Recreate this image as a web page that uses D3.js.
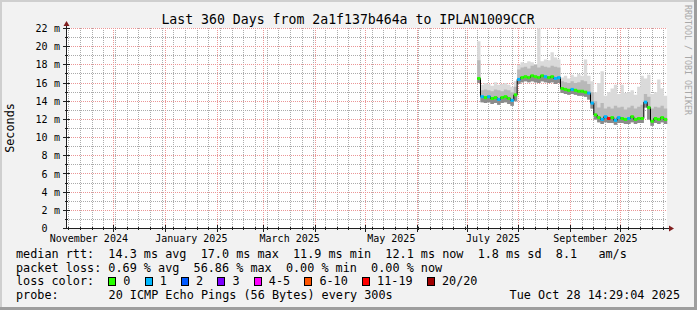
<!DOCTYPE html>
<html>
<head>
<meta charset="utf-8">
<script src="https://cdn.jsdelivr.net/npm/d3@7"></script>
<style>
  body { margin: 0; background: #f2f2f2; }
  svg text { font-family: "DejaVu Sans Mono", monospace; white-space: pre; }
</style>
</head>
<body>
<div id="chart"></div>
<script>
// ---- data ----
var endTime = new Date(2025, 9, 28, 14, 29, 4);
var spanDays = 360;
var firstSample = new Date(2025, 6, 7);
var stepDays = 2;

// median rtt per 2-day step (ms)
var median = [16.5, 14.5, 14.4, 14.5, 14.3, 14.4, 14.2, 14.4, 14.5, 14.3, 14.1, 14.7,
  16.4, 16.6, 16.7, 16.6, 16.8, 16.7, 16.6, 16.8, 16.7, 16.6, 16.7, 16.5, 16.6,
  15.4, 15.3, 15.2, 15.3, 15.2, 15.1, 15.1, 15.0, 14.9, 13.8, 12.5,
  12.2, 12.0, 12.3, 12.1, 12.2, 11.9, 12.2, 12.1, 12.0, 12.1, 12.3, 12.0, 12.1, 12.1,
  13.9, 13.3, 11.8, 12.1, 12.0, 12.2, 12.0];
// lost pings out of 20 per step
var lostPings = [0, 1, 0, 1, 0, 0, 1, 0, 0, 0, 1, 0,
  1, 0, 0, 0, 0, 0, 0, 0, 1, 0, 0, 1, 1,
  0, 0, 0, 1, 0, 0, 0, 0, 1, 1, 0,
  0, 1, 1, 12, 0, 1, 1, 0, 0, 1, 0, 0, 0, 0,
  1, 0, 0, 0, 0, 0, 0];
// smoke: lowest ping, top of dense smoke, highest ping (ms)
var pingLow = [16.0, 13.9, 13.8, 13.9, 13.7, 13.8, 13.6, 13.8, 13.9, 13.7, 13.5, 14.0,
  15.9, 16.1, 16.2, 16.1, 16.2, 16.1, 16.0, 16.2, 16.1, 16.0, 16.1, 15.9, 16.0,
  14.9, 14.8, 14.7, 14.8, 14.7, 14.6, 14.6, 14.5, 14.2, 13.2, 12.0,
  11.7, 11.5, 11.7, 11.6, 11.6, 11.4, 11.6, 11.6, 11.5, 11.5, 11.7, 11.5, 11.6, 11.6,
  13.3, 12.0, 11.3, 11.6, 11.5, 11.7, 11.5];
var pingDense = [18.5, 15.2, 15.3, 15.2, 15.1, 15.3, 15.2, 15.1, 15.3, 15.2, 15.0, 15.6,
  17.5, 17.7, 17.8, 17.6, 17.9, 18.0, 17.7, 17.9, 17.8, 17.7, 17.9, 17.8, 17.7,
  16.2, 16.1, 16.0, 16.2, 16.0, 16.1, 16.3, 16.2, 15.9, 15.0, 14.0,
  13.3, 13.8, 13.2, 13.4, 13.2, 13.5, 13.3, 13.4, 13.1, 13.3, 13.5, 13.2, 13.4, 13.6,
  14.8, 14.5, 13.2, 13.4, 13.3, 13.5, 13.2];
var pingHigh = [20.6, 15.8, 16.0, 15.9, 15.7, 16.1, 15.8, 15.9, 16.0, 15.8, 15.6, 16.2,
  18.0, 18.3, 18.2, 18.4, 18.3, 18.1, 22.0, 18.4, 18.6, 18.5, 19.4, 18.8, 18.6,
  16.6, 16.8, 16.5, 16.9, 16.7, 17.0, 16.8, 18.6, 16.8, 16.2, 15.0,
  16.0, 17.3, 14.6, 15.0, 15.4, 15.8, 14.8, 15.8, 14.9, 15.0, 15.2, 14.7, 15.6, 16.8,
  16.5, 16.9, 14.8, 15.0, 16.4, 15.4, 14.6];

var yTicks = [0, 2, 4, 6, 8, 10, 12, 14, 16, 18, 20, 22];
var monthLabels = ["November 2024", "January 2025", "March 2025", "May 2025", "July 2025", "September 2025"];

var lossNames = ["0", "1", "2", "3", "4-5", "6-10", "11-19", "20/20"];
var lossUpper = [0, 1, 2, 3, 5, 10, 19, 20];
var lossColors = ["#26ff00", "#00b8ff", "#0059ff", "#7e00ff", "#ff00ff", "#ff5500", "#ff0000", "#a10000"];

var rttStats = [14.3, 17.0, 11.9, 12.1, 1.8, 8.1];   // avg max min now sd am/s
var lossStats = [0.69, 56.86, 0.00, 0.00];           // avg max min now
var titleText = "Last 360 Days from 2a1f137b464a to IPLAN1009CCR";
var probeText = "20 ICMP Echo Pings (56 Bytes) every 300s";
var stampText = "Tue Oct 28 14:29:04 2025";

// ---- drawing ----
var W = 697, H = 310;
var startTime = new Date(endTime.getTime() - spanDays * 864e5);

var x = d3.scaleTime().domain([startTime, endTime]).range([66.5, 666.5]);
var y = d3.scaleLinear().domain([0, 22]).range([228.5, 28.5]);

var svg = d3.select("#chart").append("svg")
  .attr("width", W).attr("height", H)
  .style("display", "block");

svg.append("rect").attr("width", W).attr("height", H).attr("fill", "#f2f2f2");
// rrdtool style shaded frame
svg.append("path").attr("d", "M0,0H" + W + "V2H2V" + H + "H0Z").attr("fill", "#cfcfcf");
svg.append("path").attr("d", "M" + W + ",0V" + H + "H0V" + (H - 3) + "H" + (W - 3) + "V0Z").attr("fill", "#9e9e9e");

svg.append("rect").attr("x", 66).attr("y", 28).attr("width", 601).attr("height", 201).attr("fill", "#fff");

// dotted grid lines (1 on, 1 off) on pixel centres
var grid = svg.append("g");
function hLine(v, color){
  var yy = Math.floor(y(v)) + 0.5;
  grid.append("line").attr("x1", 67).attr("x2", 667).attr("y1", yy).attr("y2", yy)
    .attr("stroke", color).attr("stroke-width", 1).attr("stroke-dasharray", "1,1");
}
function vLine(d, color){
  var xx = Math.floor(x(d)) + 0.5;
  grid.append("line").attr("x1", xx).attr("x2", xx).attr("y1", 28).attr("y2", 228)
    .attr("stroke", color).attr("stroke-width", 1).attr("stroke-dasharray", "1,1");
}
var weekStarts = d3.timeDay.range(startTime, endTime).filter(function(d){ return d.getDay() === 1; });
var monthStarts = d3.timeMonth.range(d3.timeMonth.ceil(startTime), endTime);

d3.range(1, 23, 2).forEach(function(v){ hLine(v, "#ababab"); });
weekStarts.forEach(function(d){ vLine(d, "#ababab"); });
yTicks.forEach(function(v){ if (v > 0) hLine(v, "#eb9696"); });
monthStarts.forEach(function(d){ vLine(d, "#eb9696"); });

// samples
var n = median.length;
var times = d3.range(n + 1).map(function(i){ return d3.timeDay.offset(firstSample, i * stepDays); });
var idx = d3.range(n + 1);
function at(arr, i){ return arr[Math.min(i, n - 1)]; }

function band(lowArr, highArr){
  return d3.area().curve(d3.curveStepAfter)
    .x(function(i){ return x(times[i]); })
    .y0(function(i){ return y(at(lowArr, i)); })
    .y1(function(i){ return y(at(highArr, i)); });
}

svg.append("path").datum(idx).attr("d", band(pingLow, pingHigh)).attr("fill", "#dadada");
svg.append("path").datum(idx).attr("d", band(pingLow, pingDense)).attr("fill", "#b8b8b8");
svg.append("path").datum(idx).attr("d", band(pingLow, median)).attr("fill", "#8c8c8c");

// thin black median
svg.append("path").datum(idx)
  .attr("d", d3.line().curve(d3.curveStepAfter)
    .x(function(i){ return x(times[i]); })
    .y(function(i){ return y(at(median, i)); }))
  .attr("fill", "none").attr("stroke", "#000").attr("stroke-width", 1);

// loss coloured median
function lossColor(c){
  for (var k = 0; k < lossUpper.length; k++) if (c <= lossUpper[k]) return lossColors[k];
  return lossColors[lossColors.length - 1];
}
svg.append("g").selectAll("line").data(d3.range(n)).enter().append("line")
  .attr("x1", function(i){ return x(times[i]); })
  .attr("x2", function(i){ return x(times[i + 1]); })
  .attr("y1", function(i){ return y(median[i]); })
  .attr("y2", function(i){ return y(median[i]); })
  .attr("stroke", function(i){ return lossColor(lostPings[i]); })
  .attr("stroke-width", 3);

// axes
var axis = svg.append("g").attr("shape-rendering", "crispEdges").attr("stroke", "#1f1f1f");
axis.append("line").attr("x1", 66.5).attr("x2", 669).attr("y1", 228.5).attr("y2", 228.5);
axis.append("line").attr("x1", 66.5).attr("x2", 66.5).attr("y1", 228.5).attr("y2", 25);
yTicks.forEach(function(v){
  var yy = Math.floor(y(v)) + 0.5;
  axis.append("line").attr("x1", 63).attr("x2", 70).attr("y1", yy).attr("y2", yy);
});
d3.range(1, 23, 2).forEach(function(v){
  var yy = Math.floor(y(v)) + 0.5;
  axis.append("line").attr("x1", 65).attr("x2", 68).attr("y1", yy).attr("y2", yy);
});
monthStarts.forEach(function(d){
  var xx = Math.floor(x(d)) + 0.5;
  axis.append("line").attr("x1", xx).attr("x2", xx).attr("y1", 225).attr("y2", 232);
});
weekStarts.forEach(function(d){
  var xx = Math.floor(x(d)) + 0.5;
  axis.append("line").attr("x1", xx).attr("x2", xx).attr("y1", 227).attr("y2", 230);
});
svg.append("path").attr("d", "M669,225.5L674,228.5L669,231.5Z").attr("fill", "#801f1f");
svg.append("path").attr("d", "M63.5,26L66.5,21L69.5,26Z").attr("fill", "#801f1f");

// y labels
var ylab = svg.append("g").attr("font-size", "10px").attr("fill", "#000");
yTicks.forEach(function(v){
  ylab.append("text").attr("x", 47.5).attr("y", y(v) + 3.6).attr("text-anchor", "end").text(v);
  if (v !== 0) ylab.append("text").attr("x", 54).attr("y", y(v) + 3.6).text("m");
});

// x labels, centred in their month
var parseMonth = d3.timeParse("%B %Y");
monthLabels.forEach(function(lbl){
  var m = parseMonth(lbl);
  var cx = (x(m) + x(d3.timeMonth.offset(m, 1))) / 2;
  svg.append("text").attr("x", cx).attr("y", 241.5).attr("text-anchor", "middle")
    .attr("font-size", "10px").text(lbl);
});

// title, axis title, watermark
svg.append("text").attr("x", 348).attr("y", 23.5).attr("text-anchor", "middle")
  .attr("font-size", "13.2px").text(titleText);
svg.append("text").attr("transform", "translate(14,128) rotate(-90)").attr("text-anchor", "middle")
  .attr("font-size", "11.8px").text("Seconds");
svg.append("text").attr("transform", "translate(685,5) rotate(90)")
  .attr("font-size", "8.3px").attr("fill", "#a8a8a8").text("RRDTOOL / TOBI OETIKER");

// legend
var cw = 7.12, lx = 16, fs = "11.8px";
var lineY = [257.8, 271.5, 285.2, 298.9];
var f1 = d3.format(".1f"), f2 = d3.format(".2f");
function legendText(str, px, py, anchor){
  return svg.append("text").attr("x", px).attr("y", py).attr("font-size", fs)
    .attr("text-anchor", anchor || "start").text(str);
}
legendText("median rtt:  " + f1(rttStats[0]) + " ms avg  " + f1(rttStats[1]) + " ms max  " +
  f1(rttStats[2]) + " ms min  " + f1(rttStats[3]) + " ms now  " + f1(rttStats[4]) + " ms sd  " +
  f1(rttStats[5]) + "   am/s", lx, lineY[0]);
legendText("packet loss: " + f2(lossStats[0]) + " % avg  " + f2(lossStats[1]) + " % max  " +
  f2(lossStats[2]) + " % min  " + f2(lossStats[3]) + " % now", lx, lineY[1]);
legendText("loss color:", lx, lineY[2]);
var bx = lx + 13 * cw - 0.2;
lossNames.forEach(function(name, k){
  svg.append("rect").attr("x", Math.round(bx) + 0.5).attr("y", 277.5).attr("width", 7).attr("height", 8)
    .attr("fill", lossColors[k]).attr("stroke", "#000").attr("stroke-width", 1)
    .attr("shape-rendering", "crispEdges");
  legendText(name, bx + 15, lineY[2]);
  bx += 15 + name.length * cw + 2 * cw;
});
legendText("probe:", lx, lineY[3]);
legendText(probeText, lx + 13 * cw, lineY[3]);
legendText(stampText, 680, lineY[3], "end");
</script>
</body>
</html>
